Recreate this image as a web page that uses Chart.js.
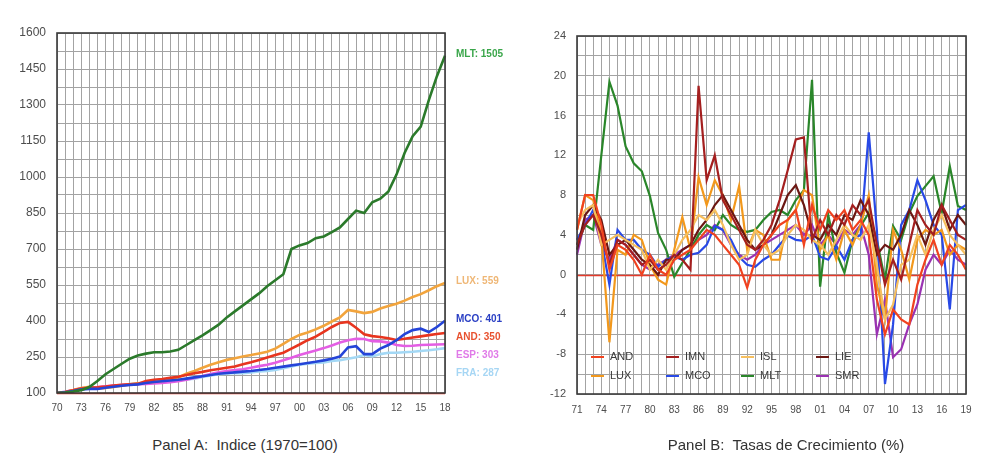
<!DOCTYPE html>
<html>
<head>
<meta charset="utf-8">
<script src="https://cdn.jsdelivr.net/npm/chart.js@4/dist/chart.umd.min.js"></script>
<style>
  html, body { margin: 0; padding: 0; background: #fff; }
  body { width: 989px; height: 459px; position: relative; overflow: hidden;
         font-family: "Liberation Sans", Arial, sans-serif; }
  .box { position: absolute; top: 0; }
  #boxA { left: 0; width: 530px; height: 425px; }
  #boxB { left: 520px; width: 469px; height: 425px; }
  .cap { position: absolute; top: 436px; font-size: 15px; color: #333;
         white-space: pre; transform: translateX(-50%); }
</style>
</head>
<body>
<div id="boxA" class="box"><canvas id="chartA" width="530" height="425"></canvas></div>
<div id="boxB" class="box"><canvas id="chartB" width="469" height="425"></canvas></div>
<div class="cap" style="left:245px">Panel A:  Indice (1970=100)</div>
<div class="cap" style="left:786px">Panel B:  Tasas de Crecimiento (%)</div>

<script>
// ---------- Panel A: index levels, 1970 = 100 ----------
const yearsA = [1970,1971,1972,1973,1974,1975,1976,1977,1978,1979,
                1980,1981,1982,1983,1984,1985,1986,1987,1988,1989,
                1990,1991,1992,1993,1994,1995,1996,1997,1998,1999,
                2000,2001,2002,2003,2004,2005,2006,2007,2008,2009,
                2010,2011,2012,2013,2014,2015,2016,2017,2018];

const idxMLT = [100,102,106,112,125,150,178,200,222,243,
                256,264,270,270,273,280,300,320,340,362,
                385,415,440,465,490,515,545,570,595,700,
                715,725,745,752,770,790,825,860,850,895,
                910,940,1010,1100,1170,1210,1320,1420,1505];
const idxLUX = [100,104,112,121,126,118,121,125,130,136,
                140,144,146,150,158,165,180,192,205,218,
                228,238,245,252,258,265,272,285,305,325,
                342,352,365,380,398,415,446,440,433,438,
                452,462,472,485,500,512,528,545,559];
const idxMCO = [100,103,108,115,117,117,122,126,130,133,
                136,142,146,149,152,155,160,165,170,175,
                180,183,186,189,192,196,200,205,210,215,
                220,225,230,236,243,252,290,295,262,262,
                285,300,320,345,362,368,354,375,401];
const idxAND = [100,104,111,119,122,124,127,131,134,136,
                138,150,155,158,163,168,175,182,188,195,
                200,205,210,220,228,238,248,258,268,285,
                302,320,335,355,375,392,396,372,345,337,
                333,328,321,326,331,336,341,346,350];
const idxESP = [100,105,112,120,124,125,128,131,133,135,
                137,138,140,142,145,149,155,163,171,179,
                186,192,196,199,205,212,218,226,236,247,
                258,268,277,287,298,310,320,326,325,316,
                315,310,300,296,297,300,301,302,303];
const idxFRA = [100,105,110,117,120,120,125,129,133,137,
                139,141,144,146,149,152,156,160,167,173,
                178,180,183,182,186,190,192,196,203,210,
                218,222,225,227,233,237,243,249,258,252,
                262,268,268,270,272,275,278,282,287];

// ---------- Panel B: annual growth rates (%) ----------
const yearsB = [1971,1972,1973,1974,1975,1976,1977,1978,1979,1980,
                1981,1982,1983,1984,1985,1986,1987,1988,1989,1990,
                1991,1992,1993,1994,1995,1996,1997,1998,1999,2000,
                2001,2002,2003,2004,2005,2006,2007,2008,2009,2010,
                2011,2012,2013,2014,2015,2016,2017,2018,2019];

const grAND = [4.5,8.0,8.0,5.0,0.5,3.0,2.5,1.5,0.0,2.0,
               0.5,0.0,1.5,2.0,2.5,3.5,4.5,4.0,3.0,2.0,
               1.0,-1.3,1.5,3.0,4.0,5.0,5.5,6.5,3.0,7.0,
               4.5,6.5,5.5,6.5,4.5,5.5,4.0,-2.5,-6.0,-3.5,
               -4.5,-5.0,-1.0,1.5,3.5,1.0,3.0,2.0,0.5];
const grIMN = [3.0,5.0,6.0,4.0,1.0,3.5,3.0,2.0,1.0,1.5,
               0.5,1.0,2.0,1.5,0.5,19.0,9.5,12.0,7.5,6.0,
               4.5,3.0,2.5,3.5,5.0,7.5,10.5,13.6,13.8,3.5,
               5.5,4.0,6.0,5.0,7.0,6.0,7.5,3.0,-1.0,1.5,
               -0.5,3.0,6.5,5.0,4.0,7.0,5.5,4.0,3.5];
const grISL = [5.0,6.5,7.0,3.0,3.5,4.0,3.5,3.0,2.5,0.5,
               1.5,0.5,2.0,3.5,4.5,6.0,5.5,6.5,5.0,3.0,
               1.5,2.0,4.5,3.0,2.0,2.5,4.0,5.0,4.5,3.5,
               3.0,2.0,3.5,5.0,4.0,3.5,5.0,1.0,-4.5,-3.0,
               1.0,1.5,4.0,2.0,4.5,6.0,4.0,3.0,2.0];
const grLIE = [2.5,6.0,7.0,5.5,2.0,3.0,3.5,2.5,1.5,1.0,
               0.0,1.5,1.5,2.5,3.0,4.5,5.5,7.0,8.0,6.5,
               5.0,3.5,2.5,3.0,4.0,6.0,8.0,9.0,7.0,4.0,
               3.5,5.0,4.0,6.0,5.5,7.5,6.0,2.0,3.0,2.5,
               4.0,6.5,5.0,3.0,5.5,7.0,4.5,6.0,5.0];
const grLUX = [4.5,8.0,7.5,4.0,-6.8,2.5,2.0,4.0,3.5,1.0,
               -0.5,-1.0,2.5,5.8,2.5,9.8,7.0,9.5,8.0,5.5,
               8.9,2.5,4.5,4.0,1.5,1.5,5.5,6.5,8.5,8.0,
               2.5,4.0,1.5,4.5,3.0,5.0,8.0,-1.0,-4.5,4.5,
               2.5,-0.5,3.5,4.5,4.0,4.5,2.0,3.0,2.5];
const grMCO = [3.5,5.0,6.5,3.5,-1.0,4.5,3.5,3.5,2.5,2.0,
               0.8,1.5,1.8,1.5,2.0,2.2,3.0,4.9,4.5,3.5,
               1.8,1.0,0.8,1.5,2.0,3.0,3.9,3.5,3.4,4.0,
               1.8,1.5,2.9,1.5,3.5,4.0,14.3,4.5,-11.0,-5.0,
               5.0,6.5,9.5,7.5,5.0,4.0,-3.5,6.5,7.0];
const grMLT = [3.0,5.0,4.5,12.0,19.4,17.0,12.9,11.2,10.4,7.9,
               4.2,2.5,-0.2,1.2,2.5,4.0,5.0,4.5,6.0,5.0,
               4.5,4.3,4.5,5.5,6.3,6.5,6.0,7.5,8.5,19.6,
               -1.2,6.0,2.2,0.2,3.5,4.9,6.2,3.5,-0.5,4.9,
               3.5,6.2,7.9,8.9,9.9,6.2,10.9,6.9,6.5];
const grSMR = [2.0,5.5,6.0,3.0,1.5,3.5,3.0,2.0,1.0,0.5,
               1.0,1.5,2.0,2.5,3.0,3.5,4.0,5.0,4.5,3.0,
               2.0,1.5,2.0,3.0,3.5,4.0,4.5,5.0,4.0,5.0,
               3.0,4.0,3.0,4.5,4.0,5.0,2.0,-6.0,-2.5,-8.3,
               -7.5,-5.0,-3.0,0.5,2.0,1.0,2.5,1.5,1.0];

// ---------- shared helpers ----------
const FONT = '"Liberation Sans", Arial, sans-serif';
const GRID = '#a3a3a3';
const TICK = '#4d4d4d';
const twoDigit = y => String(y % 100).padStart(2, '0');

// dark frame around the plotting area plus a red reference line
const framePlugin = {
  id: 'frame',
  beforeDatasetsDraw(chart, args, opts) {
    const { ctx, chartArea: a, scales } = chart;
    const y = Math.round(scales.y.getPixelForValue(opts.refValue)) + 0.5;
    ctx.save();
    ctx.strokeStyle = '#e43a2a';
    ctx.lineWidth = 1.5;
    ctx.beginPath(); ctx.moveTo(a.left, y); ctx.lineTo(a.right, y); ctx.stroke();
    ctx.restore();
  },
  afterDraw(chart) {
    const { ctx, chartArea: a } = chart;
    ctx.save();
    ctx.strokeStyle = '#3a3a3a';
    ctx.lineWidth = 1.6;
    ctx.strokeRect(a.left, a.top, a.right - a.left, a.bottom - a.top);
    ctx.restore();
  }
};

// end-of-line value tags for panel A, nudged apart so they don't collide
const endTagPlugin = {
  id: 'endTags',
  afterDatasetsDraw(chart, args, opts) {
    const { ctx, chartArea: a, scales } = chart;
    const tags = chart.data.datasets.map(ds => {
      const last = ds.data[ds.data.length - 1];
      return { text: ds.label + ': ' + last, y: scales.y.getPixelForValue(last) - 2,
               color: ds.tagColor };
    }).sort((p, q) => p.y - q.y);
    let prev = -Infinity;
    ctx.save();
    ctx.font = 'bold 10px ' + FONT;
    ctx.textBaseline = 'middle';
    tags.forEach(t => {
      const y = Math.max(t.y, prev + opts.gap);
      prev = y;
      ctx.fillStyle = t.color;
      ctx.fillText(t.text, a.right + 11, y);
    });
    ctx.restore();
  }
};

// two-row legend drawn inside the lower-left corner of panel B
const innerLegendPlugin = {
  id: 'innerLegend',
  afterDatasetsDraw(chart, args, opts) {
    const { ctx, chartArea: a } = chart;
    ctx.save();
    ctx.font = '11px ' + FONT;
    ctx.textBaseline = 'middle';
    chart.data.datasets.forEach((ds, i) => {
      const col = i % 4, row = Math.floor(i / 4);
      const x = a.left + 14 + col * 75;
      const y = a.bottom - 37 + row * 19;
      ctx.strokeStyle = ds.borderColor;
      ctx.lineWidth = 2;
      ctx.beginPath(); ctx.moveTo(x, y); ctx.lineTo(x + 13, y); ctx.stroke();
      ctx.fillStyle = '#3a3a3a';
      ctx.fillText(ds.label, x + 19, y);
    });
    ctx.restore();
  }
};

function lineSet(label, data, color, width, extra) {
  return Object.assign({
    label, data, borderColor: color, backgroundColor: color,
    borderWidth: width, pointRadius: 0, tension: 0, fill: false
  }, extra || {});
}

// ---------- Panel A chart ----------
new Chart(document.getElementById('chartA'), {
  type: 'line',
  data: {
    labels: yearsA,
    datasets: [
      lineSet('MLT', idxMLT, '#2b7a2b', 2.6, { tagColor: '#3aa64a' }),
      lineSet('MCO', idxMCO, '#2444d8', 2.6, { tagColor: '#2a3fc4' }),
      lineSet('AND', idxAND, '#e8351f', 2.6, { tagColor: '#e85230' }),
      lineSet('LUX', idxLUX, '#f2a43c', 2.6, { tagColor: '#efb776' }),
      lineSet('ESP', idxESP, '#e45ee4', 2.6, { tagColor: '#e07ae8' }),
      lineSet('FRA', idxFRA, '#a3d8f5', 2.6, { tagColor: '#a6d6f4' })
    ]
  },
  options: {
    responsive: false,
    animation: false,
    devicePixelRatio: 1,
    layout: { padding: { left: 0, top: 33, right: 85, bottom: 0 } },
    plugins: {
      legend: { display: false },
      tooltip: { enabled: false },
      frame: { refValue: 100 },
      endTags: { gap: 18 }
    },
    scales: {
      x: {
        type: 'category',
        offset: false,
        afterFit: s => { s.height = 32; },
        grid: { color: GRID, lineWidth: 1, drawTicks: false, offset: false },
        border: { display: false },
        ticks: {
          autoSkip: false, maxRotation: 0, padding: 9,
          color: TICK, font: { family: FONT, size: 10 },
          callback: (v, i) => (i % 3 === 0 ? twoDigit(yearsA[i]) : '')
        }
      },
      y: {
        min: 100, max: 1600,
        afterFit: s => { s.width = 57; },
        grid: { color: GRID, lineWidth: 1, drawTicks: false },
        border: { display: false },
        ticks: {
          stepSize: 75, padding: 11,
          color: TICK, font: { family: FONT, size: 12 },
          callback: v => ((v - 100) % 150 === 0 ? v : '')
        }
      }
    }
  },
  plugins: [framePlugin, endTagPlugin]
});

// ---------- Panel B chart ----------
new Chart(document.getElementById('chartB'), {
  type: 'line',
  data: {
    labels: yearsB,
    datasets: [
      lineSet('AND', grAND, '#f0421f', 2.2),
      lineSet('IMN', grIMN, '#a41f1f', 2.2),
      lineSet('ISL', grISL, '#f6bf5e', 2.2),
      lineSet('LIE', grLIE, '#6b1712', 2.2),
      lineSet('LUX', grLUX, '#f2981c', 2.2),
      lineSet('MCO', grMCO, '#2849e6', 2.2),
      lineSet('MLT', grMLT, '#2a862a', 2.2),
      lineSet('SMR', grSMR, '#9a32b2', 2.2)
    ]
  },
  options: {
    responsive: false,
    animation: false,
    devicePixelRatio: 1,
    layout: { padding: { left: 0, top: 36, right: 23, bottom: 0 } },
    plugins: {
      legend: { display: false },
      tooltip: { enabled: false },
      frame: { refValue: 0 }
    },
    scales: {
      x: {
        type: 'category',
        offset: false,
        afterFit: s => { s.height = 31; },
        grid: { color: GRID, lineWidth: 1, drawTicks: false, offset: false },
        border: { display: false },
        ticks: {
          autoSkip: false, maxRotation: 0, padding: 10,
          color: TICK, font: { family: FONT, size: 10 },
          callback: (v, i) => (i % 3 === 0 ? twoDigit(yearsB[i]) : '')
        }
      },
      y: {
        min: -12, max: 24,
        afterFit: s => { s.width = 57; },
        grid: { color: GRID, lineWidth: 1, drawTicks: false },
        border: { display: false },
        ticks: {
          stepSize: 2, padding: 11,
          color: TICK, font: { family: FONT, size: 11 },
          callback: v => (v % 4 === 0 ? v : '')
        }
      }
    }
  },
  plugins: [framePlugin, innerLegendPlugin]
});
</script>
</body>
</html>
